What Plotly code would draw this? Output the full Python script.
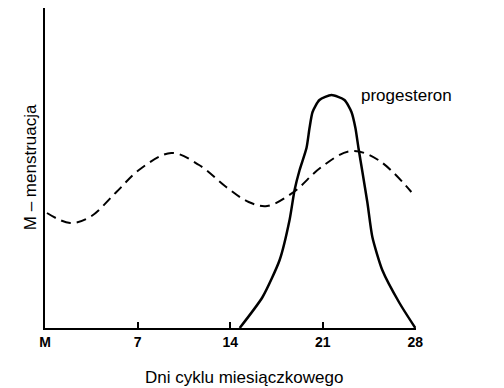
import plotly.graph_objects as go

# Data (day of cycle, relative level)
estrogen_days = [0.15, 1.9, 3.4, 5.4, 7.1, 9.55, 11.65, 13.7, 15.4, 16.8, 18.8, 20.9, 23.15, 25.2, 27.7]
estrogen_vals = [115, 105, 111, 136, 158, 175, 163, 141, 126, 122, 136, 161, 177, 168, 136]

progest_days = [14.72, 16.45, 17.74, 18.49, 18.87, 19.25, 19.77, 20.0, 20.23, 20.75, 21.66,
                22.64, 23.17, 23.47, 23.7, 24.0, 24.38, 24.75, 25.5, 26.8, 28.0]
progest_vals = [0, 31, 68, 108, 138, 158, 180, 200, 216, 228, 233,
                228, 216, 200, 180, 156, 125, 91, 58, 25, 0]

tick_vals = [0, 7, 14, 21, 28]
tick_text = ["M", "7", "14", "21", "28"]

FONT = "Liberation Sans, Arial, sans-serif"

fig = go.Figure()
fig.add_trace(go.Scatter(x=estrogen_days, y=estrogen_vals, mode="lines",
                         line=dict(color="black", width=2, dash="10px,6px", shape="spline", smoothing=1.0),
                         showlegend=False, hoverinfo="skip"))
fig.add_trace(go.Scatter(x=progest_days, y=progest_vals, mode="lines",
                         line=dict(color="black", width=2.5, shape="spline", smoothing=0.6),
                         showlegend=False, hoverinfo="skip"))

fig.update_layout(
    width=496, height=380,
    margin=dict(l=37, r=88, t=0, b=60),
    paper_bgcolor="white", plot_bgcolor="white",
    font=dict(family=FONT, color="black"),
    xaxis=dict(range=[0, 28.05], showgrid=False, zeroline=False,
               showline=True, linecolor="black", linewidth=2,
               tickmode="array", tickvals=tick_vals, ticktext=tick_text,
               ticks="inside", ticklen=6, tickwidth=2, tickcolor="black",
               tickfont=dict(family=FONT, size=14, color="black", weight="bold")),
    yaxis=dict(range=[0, 320], showgrid=False, zeroline=False,
               showline=True, linecolor="black", linewidth=2,
               showticklabels=False, ticks=""),
    annotations=[
        dict(x=23.77, y=233, xref="x", yref="y", text="progesteron", showarrow=False,
             xanchor="left", yanchor="middle", font=dict(size=17, family=FONT)),
        dict(x=28.3, y=116, xref="x", yref="y", text="estrogen", showarrow=False,
             xanchor="left", yanchor="middle", font=dict(size=17, family=FONT)),
        dict(x=-0.040, y=0.503, xref="paper", yref="paper", text="M – menstruacja", showarrow=False,
             textangle=-90, xanchor="center", yanchor="middle", font=dict(size=17, family=FONT)),
        dict(x=0.536, y=-0.156, xref="paper", yref="paper", text="Dni cyklu miesiączkowego", showarrow=False,
             xanchor="center", yanchor="middle", font=dict(size=17, family=FONT)),
    ],
)

fig.write_html("out.html")
